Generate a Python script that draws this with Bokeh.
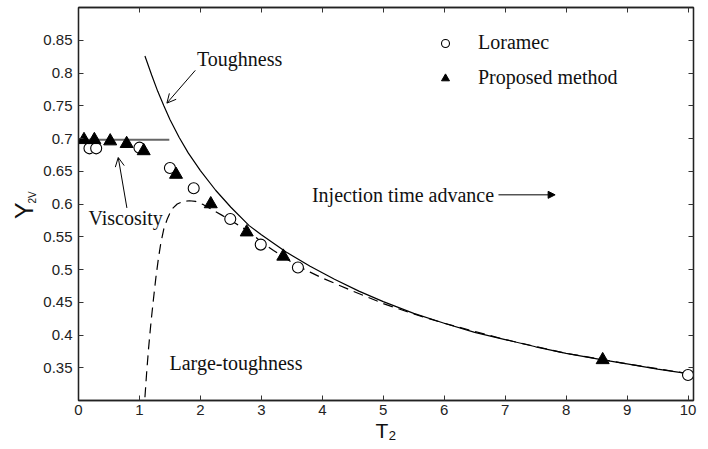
import math
from bokeh.plotting import figure
from bokeh.models import (Label, Arrow, OpenHead, NormalHead, LinearAxis, FixedTicker,
                          Legend, LegendItem, Range1d)
from bokeh.embed import file_html
from bokeh.resources import INLINE

# ---------------- data ----------------
loramec_x = [0.18, 0.29, 1.00, 1.50, 1.89, 2.49, 2.99, 3.60, 10.0]
loramec_y = [0.685, 0.685, 0.686, 0.655, 0.624, 0.577, 0.538, 0.503, 0.339]

proposed_x = [0.09, 0.26, 0.52, 0.79, 1.07, 1.60, 2.17, 2.76, 3.36, 8.60]
proposed_y = [0.698, 0.698, 0.696, 0.692, 0.681, 0.645, 0.600, 0.557, 0.520, 0.362]

toughness_x = [1.09, 1.2, 1.3, 1.4, 1.5, 1.65, 1.8, 2.0, 2.25, 2.5, 2.8, 3.0, 3.4, 3.8,
               4.2, 4.6, 5.0, 5.5, 6.0, 6.5, 7.0, 7.5, 8.0, 8.6, 9.0, 9.5, 10.0]
toughness_y = [0.826, 0.797, 0.772, 0.750, 0.729, 0.702, 0.678, 0.651, 0.621, 0.595,
               0.567, 0.553, 0.527, 0.505, 0.485, 0.467, 0.451, 0.433, 0.418, 0.404,
               0.393, 0.382, 0.372, 0.362, 0.356, 0.348, 0.341]

large_x = [1.09, 1.12, 1.15, 1.19, 1.23, 1.27, 1.31, 1.35, 1.40, 1.46, 1.53, 1.62, 1.72,
           1.82, 1.92, 2.05, 2.2, 2.35, 2.5, 2.65, 2.8, 3.0, 3.2, 3.4, 3.6, 3.8, 4.0,
           4.5, 5.0, 5.5, 6.0, 7.0, 8.0, 9.0, 10.0]
large_y = [0.305, 0.345, 0.380, 0.420, 0.455, 0.488, 0.516, 0.540, 0.562, 0.578, 0.592,
           0.600, 0.604, 0.605, 0.604, 0.599, 0.591, 0.583, 0.575, 0.566, 0.558, 0.542,
           0.529, 0.517, 0.505, 0.496, 0.487, 0.467, 0.448, 0.432, 0.418, 0.393, 0.372,
           0.356, 0.341]

viscosity_x = [0.0, 1.49]
viscosity_y = [0.698, 0.698]

x_ticks = [0, 1, 2, 3, 4, 5, 6, 7, 8, 9, 10]
x_tick_labels = ["0", "1", "2", "3", "4", "5", "6", "7", "8", "9", "10"]
y_ticks = [0.35, 0.4, 0.45, 0.5, 0.55, 0.6, 0.65, 0.7, 0.75, 0.8, 0.85]
y_tick_labels = ["0.35", "0.4", "0.45", "0.5", "0.55", "0.6", "0.65", "0.7", "0.75", "0.8", "0.85"]

SANS = "Liberation Sans"
SERIF = "Liberation Serif"

p = figure(width=700, height=447, output_backend="svg", toolbar_location=None,
           x_range=Range1d(0, 10.09), y_range=Range1d(0.3, 0.9),
           min_border_left=78, min_border_right=7, min_border_top=7, min_border_bottom=47,
           x_axis_location=None, y_axis_location=None)
p.background_fill_color = "white"
p.border_fill_color = "white"
p.grid.visible = False
p.outline_line_color = "#222222"
p.outline_line_width = 1.3


def style_axis(ax, ticks, labels, show_labels):
    ax.ticker = FixedTicker(ticks=ticks)
    ax.minor_tick_line_color = None
    ax.major_tick_in = 5
    ax.major_tick_out = 0
    ax.major_tick_line_color = "#333333"
    ax.major_tick_line_width = 1
    ax.axis_line_color = "#222222"
    ax.axis_line_width = 1.3
    ax.major_label_text_font = SANS
    ax.major_label_text_color = "#222222"
    if show_labels:
        ax.major_label_overrides = {t: l for t, l in zip(ticks, labels)}
        ax.major_label_text_font_size = "15px"
    else:
        ax.major_label_overrides = {t: "" for t in ticks}
        ax.major_label_text_font_size = "1px"
        ax.major_label_standoff = 0


xb = LinearAxis(); style_axis(xb, x_ticks, x_tick_labels, True)
xb.major_label_standoff = 4
xb.axis_label = "T\u2082"
xb.axis_label_text_font = SANS
xb.axis_label_text_font_size = "21px"
xb.axis_label_text_font_style = "normal"
xb.axis_label_text_color = "#111111"
xb.axis_label_standoff = 1
yl = LinearAxis(); style_axis(yl, y_ticks, y_tick_labels, True); yl.major_label_standoff = 6
xt = LinearAxis(); style_axis(xt, x_ticks, x_tick_labels, False)
yr = LinearAxis(); style_axis(yr, y_ticks, y_tick_labels, False)
p.add_layout(xb, "below")
p.add_layout(yl, "left")
p.add_layout(xt, "above")
p.add_layout(yr, "right")

# curves
p.line(toughness_x, toughness_y, line_color="black", line_width=1.2)
p.line(large_x, large_y, line_color="black", line_width=1.2, line_dash="10 6")
p.line(viscosity_x, viscosity_y, line_color="#666666", line_width=2)

# markers
r_lor = p.scatter(loramec_x, loramec_y, marker="circle", size=11, line_color="black",
                  fill_color="white", line_width=1.1)
r_pro = p.scatter(proposed_x, proposed_y, marker="triangle", size=13, line_color="black",
                  fill_color="black", line_width=1)

legend = Legend(items=[LegendItem(label="Loramec", renderers=[r_lor]),
                       LegendItem(label="Proposed method", renderers=[r_pro])],
                location=(357, 311))
legend.border_line_alpha = 0
legend.background_fill_alpha = 0
legend.label_text_font = SERIF
legend.label_text_font_size = "20px"
legend.label_text_color = "#111111"
legend.glyph_width = 20
legend.glyph_height = 20
legend.label_height = 20
legend.label_standoff = 23
legend.spacing = 12
legend.padding = 0
legend.margin = 0
p.add_layout(legend)

# annotation texts
def note(x, y, text):
    p.add_layout(Label(x=x, y=y, text=text, text_font=SERIF, text_font_size="20px",
                       text_color="#111111", text_baseline="middle", text_align="left"))

note(1.943, 0.821, "Toughness")
note(0.164, 0.579, "Viscosity")
note(1.493, 0.357, "Large-toughness")
note(3.83, 0.614, "Injection time advance")

p.add_layout(Arrow(end=OpenHead(size=9, line_width=1, line_color="black"),
                   x_start=1.916, y_start=0.804, x_end=1.45, y_end=0.754,
                   line_width=1, line_color="black"))
p.add_layout(Arrow(end=OpenHead(size=9, line_width=1, line_color="black"),
                   x_start=0.794, y_start=0.594, x_end=0.652, y_end=0.671,
                   line_width=1, line_color="black"))
p.add_layout(Arrow(end=NormalHead(size=7, line_color="black", fill_color="black"),
                   x_start=6.89, y_start=0.614, x_end=7.82, y_end=0.614,
                   line_width=1, line_color="black"))

# y title "Y" with subscript "2V" (placed in the left side panel so it is not clipped)
p.add_layout(Label(x=-0.886, y=0.590, text="Y", angle=math.pi / 2,
                   text_font=SANS, text_font_size="25px",
                   text_align="center", text_baseline="middle", text_color="#111111"), "left")
p.add_layout(Label(x=-0.755, y=0.610, text="2V", angle=math.pi / 2,
                   text_font=SANS, text_font_size="10px",
                   text_align="center", text_baseline="middle", text_color="#111111"), "left")

open("out.html", "w").write(file_html(p, INLINE))
